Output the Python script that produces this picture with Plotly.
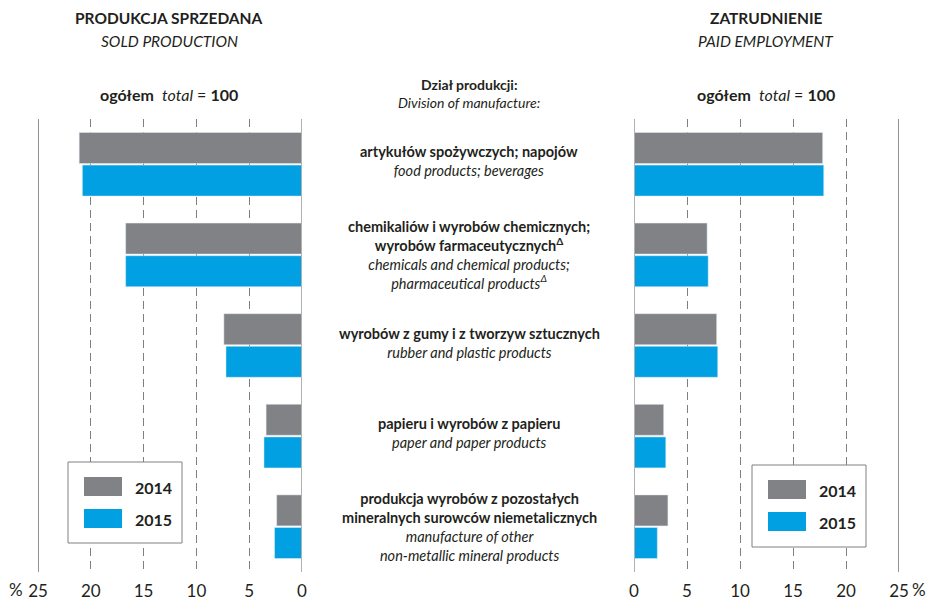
import plotly.graph_objects as go

# ---------------- data ----------------
categories = ["food", "chem", "rubber", "paper", "mineral"]
labels_pl = [
    "artykułów spożywczych; napojów",
    "chemikaliów i wyrobów chemicznych;<br>wyrobów farmaceutycznych<sup>Δ</sup>",
    "wyrobów z gumy i z tworzyw sztucznych",
    "papieru i wyrobów z papieru",
    "produkcja wyrobów z pozostałych<br>mineralnych surowców niemetalicznych",
]
labels_en = [
    "food products; beverages",
    "chemicals and chemical products;<br>pharmaceutical products<sup>Δ</sup>",
    "rubber and plastic products",
    "paper and paper products",
    "manufacture of other<br>non-metallic mineral products",
]
years = ["2014", "2015"]
sold_2014 = [21.1, 16.7, 7.4, 3.4, 2.4]
sold_2015 = [20.8, 16.7, 7.2, 3.6, 2.6]
emp_2014 = [17.8, 6.9, 7.8, 2.8, 3.2]
emp_2015 = [17.9, 7.0, 7.9, 3.0, 2.2]
tick_vals = [0, 5, 10, 15, 20, 25]
tick_text = ["0", "5", "10", "15", "20", "25"]

# ---------------- styles ----------------
W, H = 927, 600
GRAY = "#818285"
BLUE = "#00A0E2"
TXT = "#231f20"
FONT = "Lato"


def fx(p):
    return p / W


def fy(p):
    return 1 - p / H


fig = go.Figure()
fig.add_trace(go.Bar(y=categories, x=sold_2014, orientation="h", marker_color=GRAY,
                     name=years[0], xaxis="x", yaxis="y", showlegend=False))
fig.add_trace(go.Bar(y=categories, x=sold_2015, orientation="h", marker_color=BLUE,
                     name=years[1], xaxis="x", yaxis="y", showlegend=False))
fig.add_trace(go.Bar(y=categories, x=emp_2014, orientation="h", marker_color=GRAY,
                     name=years[0], xaxis="x2", yaxis="y2", showlegend=False))
fig.add_trace(go.Bar(y=categories, x=emp_2015, orientation="h", marker_color=BLUE,
                     name=years[1], xaxis="x2", yaxis="y2", showlegend=False))

xcommon = dict(tickvals=tick_vals, ticktext=tick_text, showgrid=True, gridcolor="#7f7f7f",
               griddash="8px,5px", gridwidth=1, zeroline=False, showline=False, ticks="",
               ticklabelstandoff=7,
               tickfont=dict(size=17, color=TXT, family=FONT), automargin=False, fixedrange=True)
ycommon = dict(domain=[fy(572), fy(119)], type="category", categoryorder="array",
               categoryarray=categories, range=[4.5, -0.5], visible=False, automargin=False,
               fixedrange=True)

fig.update_layout(
    width=W, height=H, margin=dict(l=0, r=0, t=0, b=0),
    paper_bgcolor="white", plot_bgcolor="white",
    barmode="group", bargap=0.28, bargroupgap=0.05,
    font=dict(family=FONT, color=TXT),
    xaxis=dict(domain=[fx(38), fx(302)], range=[25, 0], anchor="y", **xcommon),
    xaxis2=dict(domain=[fx(634), fx(899)], range=[0, 25], anchor="y2", **xcommon),
    yaxis=dict(anchor="x", **ycommon),
    yaxis2=dict(anchor="x2", **ycommon),
)

shapes = []
# solid reference lines at 0 and 25
for xr in ["x", "x2"]:
    yr = "y domain" if xr == "x" else "y2 domain"
    shapes.append(dict(type="line", xref=xr, yref=yr, x0=25, x1=25, y0=0, y1=1,
                       line=dict(color="#6d6e71", width=1.5), layer="below"))
    shapes.append(dict(type="line", xref=xr, yref=yr, x0=0, x1=0, y0=0, y1=1,
                       line=dict(color="#b0b1b3", width=2), layer="above"))

annotations = []


def ann(text, x, y, size, **kw):
    d = dict(text=text, x=fx(x), y=fy(y), xref="paper", yref="paper", showarrow=False,
             font=dict(size=size, color=TXT, family=FONT), xanchor="center", yanchor="middle")
    d.update(kw)
    annotations.append(d)


# headers
ann("<b>PRODUKCJA SPRZEDANA</b>", 169, 18, 15.5)
ann("<i>SOLD PRODUCTION</i>", 169, 41, 15.5)
ann("<b>ogółem</b>  <i>total</i> = <b>100</b>", 169, 94, 16)
ann("<b>ZATRUDNIENIE</b>", 766, 18, 15.5)
ann("<i>PAID EMPLOYMENT</i>", 766, 41, 15.5)
ann("<b>ogółem</b>  <i>total</i> = <b>100</b>", 766, 94, 16)
ann("<b>Dział produkcji:</b>", 469, 85, 14)
ann("<i>Division of manufacture:</i>", 469, 102, 14)
ann("%", 16, 589, 17, borderpad=0)
ann("%", 919, 589, 17, borderpad=0)

# category labels
for c, pl, en in zip(categories, labels_pl, labels_en):
    single = "<br>" not in pl
    annotations.append(dict(text="<b>" + pl + "</b><br><i>" + en + "</i>", x=fx(469), y=c,
                            xref="paper", yref="y", showarrow=False, align="center",
                            font=dict(size=14.5, color=TXT, family=FONT),
                            xanchor="center", yanchor="middle", yshift=3 if single else 0))

# legend boxes
for (bx0, by0, bx1, by1) in [(68, 462, 182, 543), (752, 465, 866, 547)]:
    shapes.append(dict(type="rect", xref="paper", yref="paper", x0=fx(bx0), x1=fx(bx1),
                       y0=fy(by1), y1=fy(by0), line=dict(color="#808080", width=1),
                       fillcolor="white", layer="above"))
    for i, (col, yr) in enumerate(zip([GRAY, BLUE], years)):
        sy0 = by0 + 15 + i * 32
        shapes.append(dict(type="rect", xref="paper", yref="paper", x0=fx(bx0 + 16),
                           x1=fx(bx0 + 54), y0=fy(sy0 + 19), y1=fy(sy0), line=dict(width=0),
                           fillcolor=col, layer="above"))
        ann("<b>" + yr + "</b>", bx0 + 85, sy0 + 10, 16)

fig.update_layout(shapes=shapes, annotations=annotations)
fig.write_html("out.html", config={"displayModeBar": False, "staticPlot": True},
               post_script="document.body.style.margin='0';document.body.style.overflow='hidden';")
